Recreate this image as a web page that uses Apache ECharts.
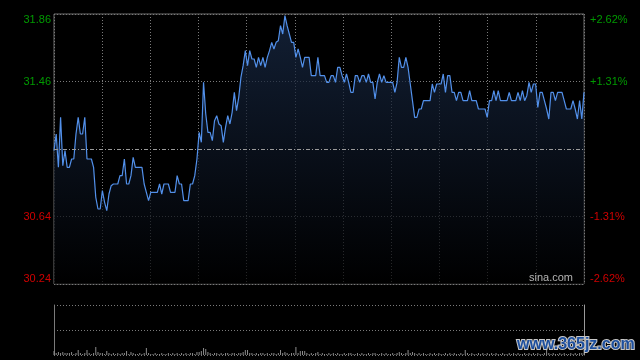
<!DOCTYPE html>
<html>
<head>
<meta charset="utf-8">
<script src="https://cdn.jsdelivr.net/npm/echarts@6/dist/echarts.min.js"></script>
<style>
html,body{margin:0;padding:0;background:#000;}
#c{width:640px;height:360px;}
</style>
</head>
<body>
<div id="c"></div>
<script>
const prevClose = 31.05;
const prices = [
31.04,31.14,30.94,31.24,30.95,31.04,30.94,30.94,30.99,30.99,
31.14,31.24,31.14,31.14,31.24,30.99,30.99,30.99,30.94,30.76,
30.69,30.69,30.80,30.73,30.68,30.78,30.83,30.84,30.84,30.84,
30.89,30.89,30.99,30.84,30.84,30.89,31.00,30.94,30.94,30.94,
30.94,30.84,30.79,30.74,30.79,30.79,30.79,30.79,30.84,30.78,
30.84,30.84,30.84,30.79,30.79,30.79,30.89,30.84,30.84,30.74,
30.74,30.74,30.84,30.84,30.89,30.99,31.15,31.09,31.45,31.26,
31.15,31.15,31.10,31.22,31.25,31.20,31.19,31.09,31.18,31.25,
31.20,31.27,31.39,31.28,31.36,31.48,31.55,31.64,31.55,31.64,
31.59,31.59,31.54,31.60,31.55,31.60,31.54,31.60,31.64,31.69,
31.65,31.69,31.70,31.79,31.74,31.85,31.79,31.74,31.69,31.69,
31.60,31.65,31.60,31.54,31.60,31.60,31.60,31.49,31.49,31.49,
31.60,31.49,31.49,31.49,31.45,31.45,31.49,31.49,31.45,31.54,
31.54,31.49,31.45,31.50,31.45,31.39,31.39,31.49,31.49,31.45,
31.49,31.49,31.45,31.50,31.45,31.45,31.35,31.45,31.50,31.45,
31.49,31.45,31.45,31.45,31.45,31.39,31.45,31.60,31.54,31.54,
31.60,31.54,31.44,31.34,31.24,31.24,31.29,31.29,31.34,31.34,
31.34,31.34,31.44,31.39,31.44,31.44,31.44,31.50,31.39,31.49,
31.49,31.39,31.39,31.34,31.39,31.39,31.34,31.34,31.34,31.40,
31.34,31.34,31.34,31.29,31.29,31.29,31.29,31.24,31.34,31.34,
31.40,31.34,31.40,31.34,31.34,31.34,31.34,31.39,31.34,31.34,
31.34,31.39,31.34,31.40,31.34,31.37,31.45,31.39,31.44,31.44,
31.30,31.39,31.39,31.34,31.29,31.23,31.39,31.39,31.34,31.39,
31.39,31.39,31.34,31.29,31.29,31.29,31.34,31.29,31.23,31.34,
31.23,31.39
];
const volumes = [
4,2,3,2,3,2,2,2,3,1,
2,5,2,1,2,5,2,1,2,8,
3,2,2,1,4,2,1,2,1,2,
1,2,2,4,1,3,2,1,1,2,
1,2,7,2,1,1,2,1,1,2,
1,1,2,1,2,1,2,1,2,1,
2,1,2,2,1,3,3,4,7,6,
3,2,1,2,2,1,2,1,2,2,
1,2,2,1,2,2,3,5,5,2,
2,1,2,1,2,2,1,2,1,2,
2,1,2,5,2,3,2,1,2,2,
8,2,4,4,4,2,1,2,1,2,
3,1,2,1,1,2,1,2,1,2,
1,1,2,1,2,2,1,1,2,1,
2,1,1,2,1,2,2,1,1,2,
1,2,1,1,2,1,2,3,2,1,
2,5,2,3,2,1,2,1,2,1,
1,2,1,2,1,2,1,1,2,1,
2,1,2,1,1,2,1,5,2,1,
2,1,1,2,1,2,1,2,1,2,
1,2,1,1,2,1,1,2,1,2,
1,2,1,1,2,1,2,1,2,1,
2,1,1,2,7,2,1,2,1,1,
2,1,2,1,1,2,1,2,1,2,
2,2
];
const leftTickLabels = ['30.24','30.64','','31.46','31.86'];
const rightTickLabels = ['-2.62%','-1.31%','','+1.31%','+2.62%'];
const tickColors = ['#d00000','#d00000','#888888','#009a00','#009a00'];

const lastIdx = prices.length - 1;
const priceData = prices.map((p, i) => [i, Math.round((p - prevClose) * 100)]);
const volData = volumes.map((v, i) => [i, v]);
const tickIdx = v => Math.max(0, Math.min(4, Math.round((Number(v) + 81) / 40.5)));

const chart = echarts.init(document.getElementById('c'), null, {renderer: 'canvas'});
const font = '"Liberation Sans", Arial, sans-serif';
chart.setOption({
  backgroundColor: '#000',
  animation: false,
  grid: [
    {left: 54, top: 14, width: 530, height: 270, show: true, borderColor: '#6e6e6e', borderWidth: 1, backgroundColor: 'transparent'},
    {left: 54, top: 305, width: 530, height: 50}
  ],
  xAxis: [
    {type: 'value', gridIndex: 0, min: 0, max: lastIdx, interval: lastIdx / 11,
     axisLine: {show: false}, axisTick: {show: false}, axisLabel: {show: false},
     splitLine: {show: true, lineStyle: {color: '#7a7a7a', type: [1, 2], width: 1}}},
    {type: 'value', gridIndex: 1, min: 0, max: lastIdx,
     axisLine: {show: false}, axisTick: {show: false}, axisLabel: {show: false},
     splitLine: {show: false}}
  ],
  yAxis: [
    {type: 'value', gridIndex: 0, position: 'left', min: -81, max: 81, interval: 40.5,
     axisLine: {show: false}, axisTick: {show: false},
     splitLine: {show: true, lineStyle: {color: '#7a7a7a', type: [1, 2], width: 1}},
     axisLabel: {show: true, margin: 3, fontSize: 11, fontFamily: font,
       showMinLabel: true, showMaxLabel: true, hideOverlap: false,
       verticalAlignMaxLabel: 'top', verticalAlignMinLabel: 'bottom',
       formatter: v => leftTickLabels[tickIdx(v)],
       color: v => tickColors[tickIdx(v)]}},
    {type: 'value', gridIndex: 0, position: 'right', min: -81, max: 81, interval: 40.5,
     axisLine: {show: false}, axisTick: {show: false}, splitLine: {show: false},
     axisLabel: {show: true, margin: 6, fontSize: 11, fontFamily: font,
       showMinLabel: true, showMaxLabel: true, hideOverlap: false,
       verticalAlignMaxLabel: 'top', verticalAlignMinLabel: 'bottom',
       formatter: v => rightTickLabels[tickIdx(v)],
       color: v => tickColors[tickIdx(v)]}},
    {type: 'value', gridIndex: 1, position: 'left', min: 0, max: 50, interval: 25,
     axisLine: {show: true, lineStyle: {color: '#7a7a7a'}}, axisTick: {show: false}, axisLabel: {show: false},
     splitLine: {show: true, lineStyle: {color: '#7a7a7a', type: [1, 2], width: 1}}},
    {type: 'value', gridIndex: 1, position: 'right', min: 0, max: 50, interval: 25,
     axisLine: {show: true, lineStyle: {color: '#9a9a9a'}}, axisTick: {show: false}, axisLabel: {show: false},
     splitLine: {show: false}}
  ],
  series: [
    {type: 'line', xAxisIndex: 0, yAxisIndex: 0, data: priceData, symbol: 'none',
     lineStyle: {color: '#5290ea', width: 1.2},
     areaStyle: {origin: 'start', color: {type: 'linear', x: 0, y: 0, x2: 0, y2: 1,
       colorStops: [{offset: 0, color: '#1a2c4a'}, {offset: 1, color: '#000000'}]}},
     markLine: {silent: true, symbol: 'none', label: {show: false},
       lineStyle: {color: '#9a9a9a', type: [4, 2, 1, 2], width: 1},
       data: [{yAxis: 0}]},
     z: 3},
    {type: 'bar', xAxisIndex: 1, yAxisIndex: 2, data: volData, barWidth: 1,
     itemStyle: {color: '#8c8c8c'}}
  ],
  graphic: [
    {type: 'text', right: 67, top: 272, z: 10,
     style: {text: 'sina.com', fill: '#b4b4b4', font: '11px ' + font}},
    {type: 'text', left: 516, top: 336, z: 10,
     style: {text: 'www.365jz.com', fill: '#1d4f9e', stroke: '#c8c8c8', lineWidth: 2,
       font: 'bold 16px ' + font}}
  ]
});
</script>
</body>
</html>
